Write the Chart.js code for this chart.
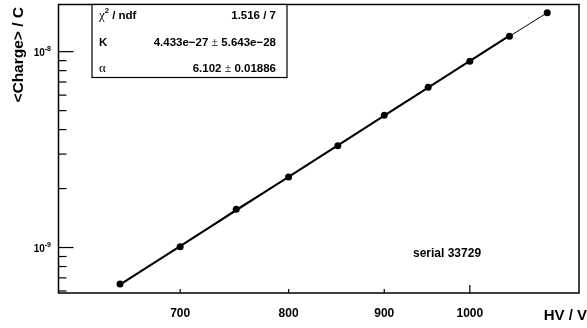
<!DOCTYPE html>
<html><head><meta charset="utf-8">
<script src="https://cdn.jsdelivr.net/npm/chart.js@4"></script>
<style>html,body{margin:0;padding:0;background:#fff}#wrap{width:587px;height:328px}</style>
</head><body><div id="wrap"><canvas id="c" width="587" height="328"></canvas></div>
<script>
// ---- data ----
const hv = [650, 700, 750, 800, 850, 900, 950, 1000, 1050, 1100];
const charge = [6.51e-10, 1.01e-9, 1.57e-9, 2.29e-9, 3.31e-9, 4.74e-9, 6.58e-9, 8.93e-9, 1.198e-8, 1.58e-8];
const fitHV = [650, 1050];
const fitCharge = [6.47e-10, 1.208e-8];
const xTickLabels = [700, 800, 900, 1000];
const xMinorTicks = [700, 800, 900];
const xMajorTicks = [1000];
const yMajorTicks = [1e-9, 1e-8];
const yMajorExponents = ['-9', '-8'];
const yMinorTicks = [6e-10, 7e-10, 8e-10, 9e-10, 2e-9, 3e-9, 4e-9, 5e-9, 6e-9, 7e-9, 8e-9, 9e-9];
const statsLabels = ['chi2', 'K', 'alpha'];
const statsValues = [['1.516 / 7'], ['4.433e\u221227', '5.643e\u221228'], ['6.102', '0.01886']];
const serialText = 'serial 33729';
const xTitle = 'HV / V';
const yTitle = '<Charge> / C';

const SANS = '"Liberation Sans", Arial, Helvetica, sans-serif';
const SERIF = '"Liberation Serif", "DejaVu Serif", serif';

function drawSegs(ctx, segs, x, y, align) {
  let total = 0;
  segs.forEach(s => { ctx.font = s.font; s.w = ctx.measureText(s.t).width; total += s.w; });
  let cx = align === 'right' ? x - total : x;
  ctx.textAlign = 'left';
  ctx.textBaseline = 'alphabetic';
  segs.forEach(s => { ctx.font = s.font; ctx.fillText(s.t, cx, y + (s.dy || 0)); cx += s.w; });
}

const rootPlugin = {
  id: 'rootStyle',
  afterDraw(chart) {
    const ctx = chart.ctx;
    const ca = chart.chartArea;
    const xs = chart.scales.x, ys = chart.scales.y;
    ctx.save();
    ctx.strokeStyle = '#000';
    ctx.fillStyle = '#000';
    // frame
    ctx.lineWidth = 1.5;
    ctx.strokeRect(ca.left, ca.top, ca.right - ca.left, ca.bottom - ca.top);
    // y ticks (inside)
    ctx.lineWidth = 1.2;
    yMajorTicks.forEach(v => {
      const y = ys.getPixelForValue(v);
      ctx.beginPath(); ctx.moveTo(ca.left, y); ctx.lineTo(ca.left + 15, y); ctx.stroke();
    });
    yMinorTicks.forEach(v => {
      const y = ys.getPixelForValue(v);
      ctx.beginPath(); ctx.moveTo(ca.left, y); ctx.lineTo(ca.left + 8, y); ctx.stroke();
    });
    // x ticks (inside)
    xMinorTicks.forEach(v => {
      const x = xs.getPixelForValue(v);
      ctx.beginPath(); ctx.moveTo(x, ca.bottom); ctx.lineTo(x, ca.bottom - 4); ctx.stroke();
    });
    xMajorTicks.forEach(v => {
      const x = xs.getPixelForValue(v);
      ctx.beginPath(); ctx.moveTo(x, ca.bottom); ctx.lineTo(x, ca.bottom - 8); ctx.stroke();
    });
    // y tick labels 10^n
    yMajorTicks.forEach((v, i) => {
      const y = ys.getPixelForValue(v);
      drawSegs(ctx, [
        { t: '10', font: 'bold 10px ' + SANS },
        { t: yMajorExponents[i], font: 'bold 7px ' + SANS, dy: -4.5 }
      ], 51, y + 4, 'right');
    });
    // stats box
    const bx = 92, by = ca.top, bw = 195, bh = 77.5 - ca.top;
    ctx.fillStyle = '#fff';
    ctx.fillRect(bx, by, bw, bh);
    ctx.lineWidth = 1.2;
    ctx.strokeRect(bx, by, bw, bh);
    ctx.fillStyle = '#000';
    const bold = 'bold 11.5px ' + SANS;
    const greek = '13px ' + SERIF;
    const pm = '12px ' + SERIF;
    const rowsY = [19, 45.8, 72.3];
    const labelSegs = {
      chi2: [{ t: '\u03C7', font: greek }, { t: '2', font: 'bold 7.5px ' + SANS, dy: -6 }, { t: ' / ndf', font: bold }],
      K: [{ t: 'K', font: bold }],
      alpha: [{ t: '\u03B1', font: greek }]
    };
    statsLabels.forEach((k, i) => {
      drawSegs(ctx, labelSegs[k], 99, rowsY[i], 'left');
      const vals = statsValues[i];
      const segs = vals.length === 1 ? [{ t: vals[0], font: bold }] :
        [{ t: vals[0] + ' ', font: bold }, { t: '\u00B1', font: pm }, { t: ' ' + vals[1], font: bold }];
      drawSegs(ctx, segs, 276, rowsY[i], 'right');
    });
    // serial text
    ctx.font = 'bold 12px ' + SANS;
    ctx.textAlign = 'left'; ctx.textBaseline = 'alphabetic';
    ctx.fillText(serialText, 413, 257);
    // x title
    ctx.font = 'bold 15px ' + SANS;
    ctx.textAlign = 'right';
    ctx.fillText(xTitle, 587, 320);
    // y title
    ctx.save();
    ctx.translate(23, 7);
    ctx.rotate(-Math.PI / 2);
    ctx.font = 'bold 15.5px ' + SANS;
    ctx.textAlign = 'right';
    ctx.textBaseline = 'alphabetic';
    ctx.fillText(yTitle, 0, 0);
    ctx.restore();
    ctx.restore();
  }
};

new Chart(document.getElementById('c'), {
  type: 'scatter',
  data: {
    datasets: [
      {
        label: 'fit',
        data: fitHV.map((x, i) => ({ x, y: fitCharge[i] })),
        showLine: true, borderColor: '#000', borderWidth: 2, pointRadius: 0, order: 2
      },
      {
        label: 'graph',
        data: hv.map((x, i) => ({ x, y: charge[i] })),
        showLine: true, borderColor: '#000', borderWidth: 1,
        pointRadius: 3.5, pointBackgroundColor: '#000', pointBorderWidth: 0, order: 1
      }
    ]
  },
  options: {
    responsive: false,
    animation: false,
    events: [],
    layout: { padding: { left: 0, top: 4.5, right: 8, bottom: 0 } },
    plugins: { legend: { display: false }, tooltip: { enabled: false } },
    scales: {
      x: {
        type: 'logarithmic', position: 'bottom',
        min: 602.6, max: 1143.9,
        grid: { display: false, drawTicks: false },
        border: { display: false },
        ticks: {
          autoSkip: false, maxRotation: 0, padding: 13, color: '#000',
          font: { family: SANS, size: 12, weight: 'bold' },
          callback: v => String(v)
        },
        afterBuildTicks: s => { s.ticks = xTickLabels.map(v => ({ value: v })); },
        afterFit: s => { s.height = 35; }
      },
      y: {
        type: 'logarithmic', position: 'left',
        min: 5.86e-10, max: 1.741e-8,
        grid: { display: false, drawTicks: false },
        border: { display: false },
        ticks: { display: false },
        afterFit: s => { s.width = 58.5; }
      }
    }
  },
  plugins: [rootPlugin]
});
</script>
</body></html>
